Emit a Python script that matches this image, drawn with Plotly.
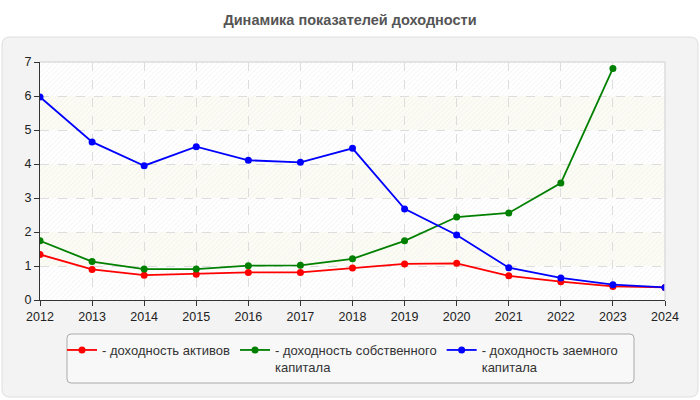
import base64
import plotly.graph_objects as go

years = [2012, 2013, 2014, 2015, 2016, 2017, 2018, 2019, 2020, 2021, 2022, 2023, 2024]
roa = [1.34, 0.90, 0.73, 0.76, 0.81, 0.81, 0.94, 1.06, 1.08, 0.71, 0.54, 0.40, 0.37]
roe = [1.74, 1.13, 0.91, 0.91, 1.01, 1.02, 1.21, 1.74, 2.44, 2.56, 3.44, 6.81, None]
rod = [5.97, 4.65, 3.95, 4.51, 4.11, 4.05, 4.46, 2.68, 1.91, 0.95, 0.65, 0.45, 0.37]
y_ticks = [0, 1, 2, 3, 4, 5, 6, 7]
names = ["- доходность активов", "- доходность собственного<br>капитала", "- доходность заемного<br>капитала"]
colors = ["#ff0000", "#008000", "#0000ff"]
title = "Динамика показателей доходности"

W, H = 700, 400
ML, MR, MT, MB = 40, 35, 62, 100
PW, PH = W - ML - MR, H - MT - MB


def px(x):
    return (x - ML) / PW


def py(y):
    return (H - MB - y) / PH


def rounded(x0, y0, x1, y1, r):
    return (f"M {px(x0 + r)},{py(y0)} L {px(x1 - r)},{py(y0)} Q {px(x1)},{py(y0)} {px(x1)},{py(y0 + r)} "
            f"L {px(x1)},{py(y1 - r)} Q {px(x1)},{py(y1)} {px(x1 - r)},{py(y1)} "
            f"L {px(x0 + r)},{py(y1)} Q {px(x0)},{py(y1)} {px(x0)},{py(y1 - r)} "
            f"L {px(x0)},{py(y0 + r)} Q {px(x0)},{py(y0)} {px(x0 + r)},{py(y0)} Z")


# background bands (alternating hatched white / faint yellow)
ymax = y_ticks[-1]
band_h = PH / ymax
rects = []
for i in range(ymax):
    top = PH - (i + 1) * band_h
    base = "#ffffff" if i % 2 == 0 else "#fcfcf4"
    rects.append(f'<rect x="0" y="{top:.2f}" width="{PW}" height="{band_h:.2f}" fill="{base}"/>')
    rects.append(f'<rect x="0" y="{top:.2f}" width="{PW}" height="{band_h:.2f}" fill="url(#h)"/>')
svg = (f'<svg xmlns="http://www.w3.org/2000/svg" width="{PW}" height="{PH}" viewBox="0 0 {PW} {PH}" preserveAspectRatio="none">'
       '<defs><pattern id="h" width="3.5" height="3.5" patternUnits="userSpaceOnUse" patternTransform="rotate(45)">'
       '<line x1="0" y1="0" x2="0" y2="3.5" stroke="#ededed" stroke-width="1"/></pattern></defs>'
       + "".join(rects) + '</svg>')
svg_uri = "data:image/svg+xml;base64," + base64.b64encode(svg.encode()).decode()

fig = go.Figure()
for name, vals, c in zip(names, [roa, roe, rod], colors):
    fig.add_trace(go.Scatter(x=years, y=vals, name=name, mode="lines+markers",
                             line=dict(color=c, width=1.8),
                             marker=dict(color=c, size=7)))

fig.update_layout(
    width=W, height=H,
    margin=dict(l=ML, r=MR, t=MT, b=MB),
    paper_bgcolor="#ffffff",
    plot_bgcolor="rgba(0,0,0,0)",
    font=dict(family="Liberation Sans, Arial, sans-serif", size=12, color="#000"),
    title=dict(text=f"<b>{title}</b>", x=0.5, xref="container", xanchor="center",
               y=1 - 20 / H, yref="container", yanchor="middle",
               font=dict(size=14.5, color="#555555")),
    showlegend=True,
    legend=dict(orientation="h", x=px(62), xanchor="left", y=py(335), yanchor="top",
                bgcolor="rgba(0,0,0,0)", borderwidth=0,
                font=dict(size=13, color="#333333"), valign="top",
                traceorder="normal"),
    xaxis=dict(range=[years[0], years[-1]], tickvals=years, ticks="outside", ticklen=5,
               tickcolor="#333", showline=True, linecolor="#333", linewidth=1,
               showgrid=True, gridcolor="#dddddd", griddash="dash", zeroline=False,
               tickfont=dict(size=12.5, color="#222")),
    yaxis=dict(range=[y_ticks[0], y_ticks[-1]], tickvals=y_ticks, ticks="outside", ticklen=5,
               tickcolor="#333", showline=True, linecolor="#333", linewidth=1,
               showgrid=True, gridcolor="#dddddd", griddash="dash", zeroline=False,
               tickfont=dict(size=12.5, color="#222")),
    images=[dict(source=svg_uri, xref="x", yref="y", x=years[0], y=y_ticks[-1],
                 sizex=years[-1] - years[0], sizey=y_ticks[-1] - y_ticks[0],
                 sizing="stretch", xanchor="left", yanchor="top", layer="below")],
    shapes=[
        dict(type="path", xref="paper", yref="paper", path=rounded(2, 37, 698, 397, 8),
             fillcolor="#f3f3f3", line=dict(color="#dedede", width=1), layer="below"),
        dict(type="path", xref="paper", yref="paper", path=rounded(67, 334, 634, 383, 4),
             fillcolor="#f8f8f8", line=dict(color="#aaaaaa", width=1), layer="below"),
        dict(type="line", xref="paper", yref="paper", x0=0, x1=1, y0=1, y1=1,
             line=dict(color="#dddddd", width=1.5), layer="above"),
        dict(type="line", xref="paper", yref="paper", x0=1, x1=1, y0=0, y1=1,
             line=dict(color="#dddddd", width=1.5), layer="above"),
    ],
)

fig.write_html("out.html")
